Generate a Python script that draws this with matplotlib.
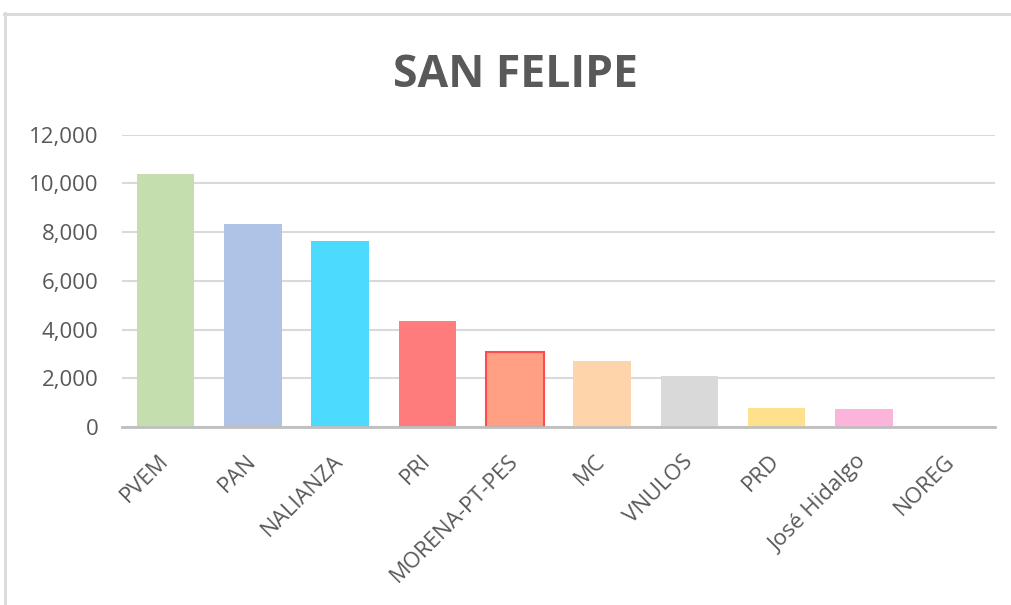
import matplotlib.pyplot as plt
import matplotlib.transforms as mtransforms
from matplotlib.lines import Line2D
from matplotlib.ticker import FuncFormatter
import numpy as np

partidos = ['PVEM', 'PAN', 'NALIANZA', 'PRI', 'MORENA-PT-PES', 'MC',
            'VNULOS', 'PRD', 'José Hidalgo', 'NOREG']
votos = [10390, 8320, 7630, 4340, 3080, 2690, 2100, 780, 730, 0]
colores = ['#C4DFAD', '#AFC3E6', '#4CDBFE', '#FF7C7C', '#FFA085',
           '#FED5AA', '#D9D9D9', '#FEE08D', '#FDB4DA', '#CCCCCC']
bordes = ['none', 'none', 'none', 'none', '#FF4B4B',
          'none', 'none', 'none', 'none', 'none']

plt.rcParams['font.family'] = ['Open Sans', 'DejaVu Sans']

fig = plt.figure(figsize=(10.12, 6.05), dpi=100)
ax = fig.add_axes([0.1206, 0.2942, 0.8624, 0.4832])

ind = np.arange(len(partidos))
for i in ind:
    ax.bar(i, votos[i], 0.66, color=colores[i],
           edgecolor=bordes[i], linewidth=1.5 if bordes[i] != 'none' else 0,
           zorder=3)

ax.set_xlim(-0.5, len(partidos) - 0.5)
ax.set_ylim(0, 12000)
ax.set_yticks(range(0, 12001, 2000))
ax.yaxis.set_major_formatter(FuncFormatter(lambda v, p: '{:,.0f}'.format(v)))
ax.grid(axis='y', color='#D9D9D9', linewidth=1.5, zorder=0)

for s in ['top', 'right', 'left']:
    ax.spines[s].set_visible(False)
ax.spines['bottom'].set_color('#BFBFBF')
ax.spines['bottom'].set_linewidth(2)
ax.spines['bottom'].set_zorder(4)

ax.tick_params(axis='both', length=0, labelsize=16, labelcolor='#595959')
ax.tick_params(axis='y', pad=17)
ax.tick_params(axis='x', pad=0)
ax.set_xticks(ind)
ax.set_xticklabels(partidos, rotation=45, ha='right', va='center',
                   rotation_mode='anchor')
offset = mtransforms.ScaledTranslation(0.0, -0.31, fig.dpi_scale_trans)
for lab in ax.get_xticklabels():
    lab.set_transform(lab.get_transform() + offset)

fig.text(0.5094, 1 - 87 / 605, 'SAN FELIPE', ha='center', va='baseline',
         fontsize=32, fontweight='bold', color='#595959')

# marco del grafico
fig.add_artist(Line2D([4.5 / 1012, 4.5 / 1012], [0, 1 - 13 / 605],
                      transform=fig.transFigure, color='#D9D9D9', linewidth=2))
fig.add_artist(Line2D([4 / 1012, 1], [1 - 13.5 / 605, 1 - 13.5 / 605],
                      transform=fig.transFigure, color='#D9D9D9', linewidth=2))

plt.savefig('out.png', dpi=100)
